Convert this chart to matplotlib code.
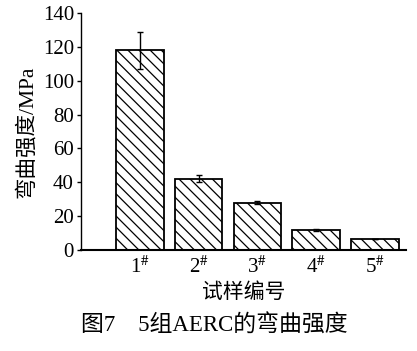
import numpy as np
import matplotlib
matplotlib.use('Agg')
import matplotlib.pyplot as plt

# данные
samples = ['1$^{\\#}$', '2$^{\\#}$', '3$^{\\#}$', '4$^{\\#}$', '5$^{\\#}$']
strength = [118, 42, 28, 11.5, 6.5]
errors = [11, 2, 1, 0.6, 0]
y_ticks = [0, 20, 40, 60, 80, 100, 120, 140]

plt.rcParams['font.family'] = ['Liberation Serif', 'Noto Sans CJK SC']
plt.rcParams['mathtext.fontset'] = 'stix'
plt.rcParams['hatch.linewidth'] = 0.9

fig = plt.figure(figsize=(4.17, 3.51), dpi=100)
ax = fig.add_axes([0.194, 0.288, 0.780, 0.675])

x = np.arange(1, len(strength) + 1)
ax.bar(x, strength, width=0.81, color='white', edgecolor='black',
       linewidth=1.3, hatch='\\\\\\')
ax.errorbar(x, strength, yerr=errors, fmt='none', ecolor='black',
            elinewidth=1.0, capsize=2, capthick=1.0)

ax.set_xlim(0, 5.53)
ax.set_ylim(0, 140)
ax.set_yticks(y_ticks)
ax.set_xticks(x)
ax.set_xticklabels(samples)
ax.tick_params(axis='x', length=0, labelsize=15, pad=5)
ax.tick_params(axis='y', direction='out', length=3, width=1, labelsize=15, pad=2)

for side in ['top', 'right']:
    ax.spines[side].set_visible(False)
ax.spines['left'].set_linewidth(1.0)
ax.spines['bottom'].set_linewidth(1.5)

ax.set_ylabel('弯曲强度/MPa', fontsize=15.5, labelpad=4)
ax.set_xlabel('试样编号', fontsize=15, labelpad=4)

fig.text(0.513, 0.071, '图7　5组AERC的弯曲强度', ha='center', va='center', fontsize=16.5)

fig.savefig('out.png', dpi=100)
